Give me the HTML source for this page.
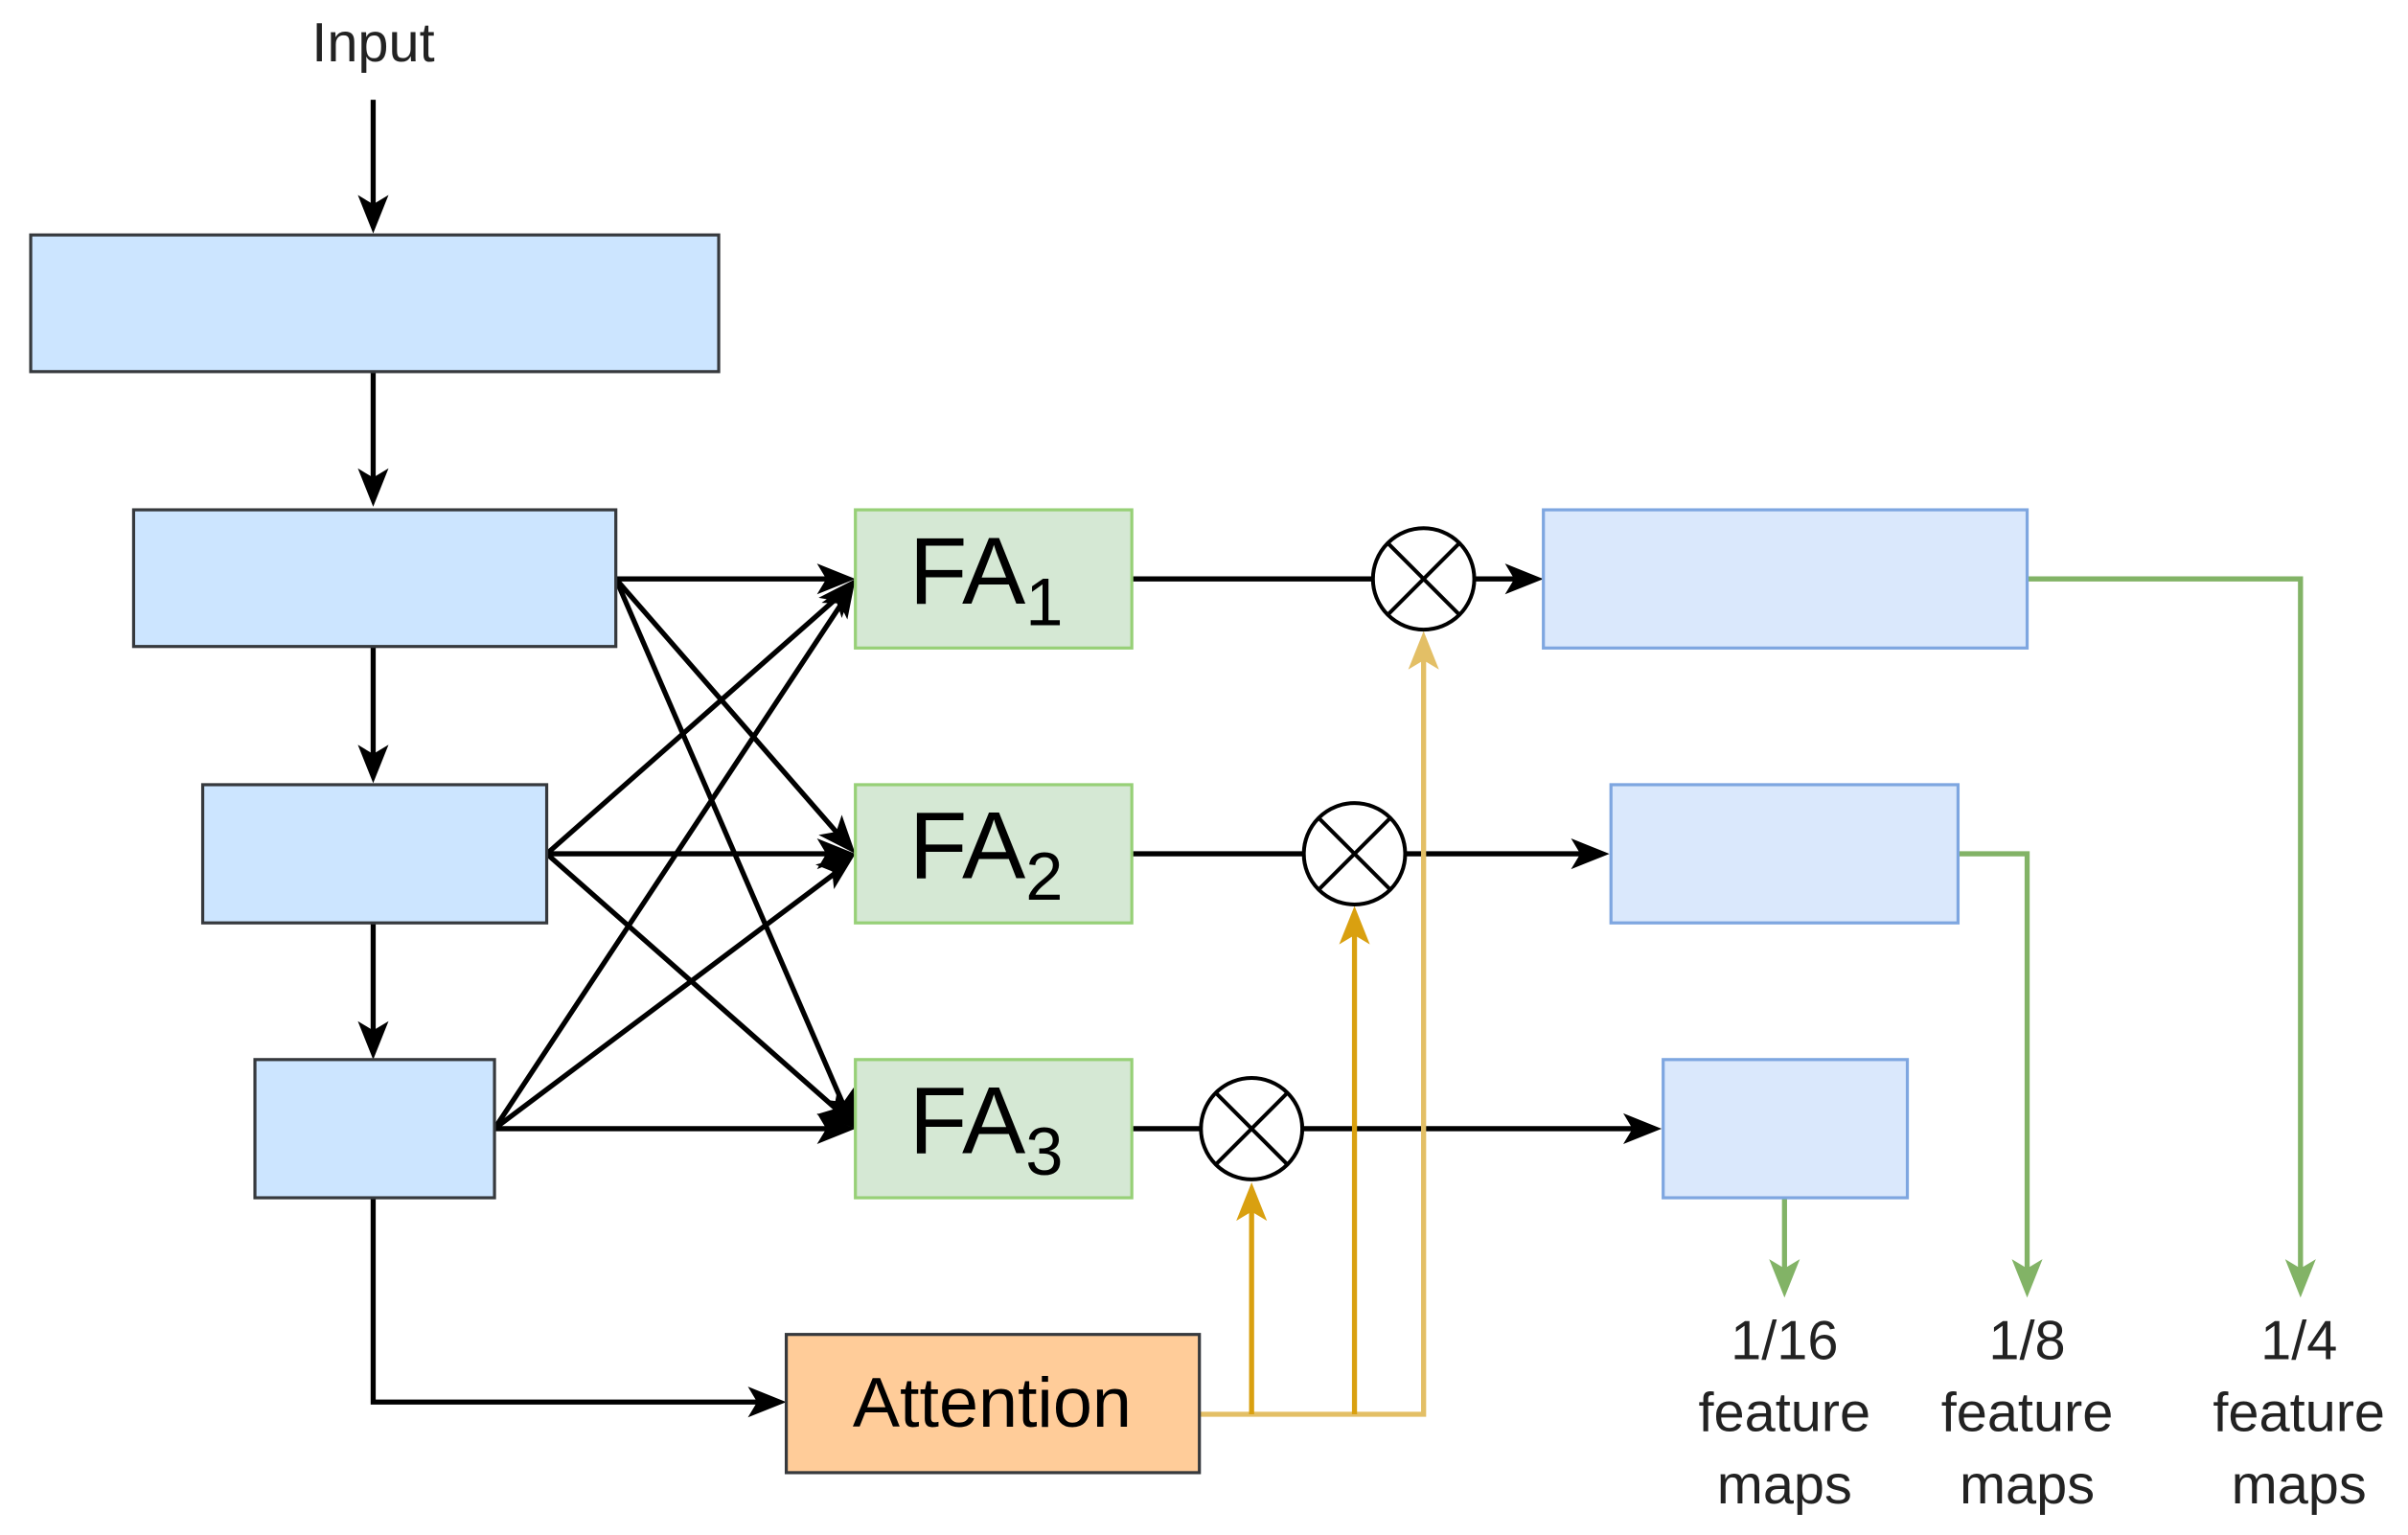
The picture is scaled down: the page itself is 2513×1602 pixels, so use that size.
<!DOCTYPE html>
<html><head><meta charset="utf-8"><style>
html,body{margin:0;padding:0;background:#fff;}
svg{display:block;}
text{font-family:"Liberation Sans",sans-serif;}
</style></head><body>
<svg width="2513" height="1602" viewBox="0 0 1568 999.6" preserveAspectRatio="none" xmlns="http://www.w3.org/2000/svg">
<g stroke-width="3.3" fill="none">
<g stroke="#000">
<line x1="243" y1="65" x2="243" y2="140"/>
<line x1="243" y1="242" x2="243" y2="318"/>
<line x1="243" y1="421" x2="243" y2="498"/>
<line x1="243" y1="601" x2="243" y2="678"/>
<polyline points="243,780 243,913 500,913"/>
<line x1="401" y1="377" x2="545" y2="377"/>
<line x1="401" y1="377" x2="550" y2="548"/>
<line x1="401" y1="377" x2="552" y2="726"/>
<line x1="356" y1="556" x2="550" y2="385"/>
<line x1="356" y1="556" x2="545" y2="556"/>
<line x1="356" y1="556" x2="550" y2="727"/>
<line x1="322" y1="735" x2="552" y2="387"/>
<line x1="322" y1="735" x2="550" y2="564"/>
<line x1="322" y1="735" x2="545" y2="735"/>
<line x1="737" y1="377" x2="894" y2="377"/>
<line x1="960" y1="377" x2="993" y2="377"/>
<line x1="737" y1="556" x2="849" y2="556"/>
<line x1="915" y1="556" x2="1036" y2="556"/>
<line x1="737" y1="735" x2="782" y2="735"/>
<line x1="848" y1="735" x2="1070" y2="735"/>
</g>
<polyline points="781,921 927,921 927,425" stroke="#e3bf66"/>
<line x1="815" y1="921" x2="815" y2="782" stroke="#d9a010"/>
<line x1="882" y1="921" x2="882" y2="603" stroke="#d9a010"/>
<g stroke="#82b366">
<polyline points="1320,377 1498,377 1498,832"/>
<polyline points="1275,556 1320,556 1320,832"/>
<line x1="1162" y1="780" x2="1162" y2="832"/>
</g>
</g>
<g fill="#000">
<polygon points="243,152 233,127 243,133 253,127"/>
<polygon points="243,330 233,305 243,311 253,305"/>
<polygon points="243,510 233,485 243,491 253,485"/>
<polygon points="243,690 233,665 243,671 253,665"/>
<polygon points="512,913 487,903 493,913 487,923"/>
<polygon points="1005,377 980,367 986,377 980,387"/>
<polygon points="1048,556 1023,546 1029,556 1023,566"/>
<polygon points="1082,735 1057,725 1063,735 1057,745"/>
<g transform="translate(557,377)"><polygon points="0,0 -25,-10 -19,0 -25,10"/></g>
<g transform="translate(557,556)"><polygon points="0,0 -25,-10 -19,0 -25,10"/></g>
<g transform="translate(557,735)"><polygon points="0,0 -25,-10 -19,0 -25,10"/></g>
<g transform="translate(557,377) rotate(-49)"><polygon points="0,0 -25,-10 -19,0 -25,10"/></g>
<g transform="translate(557,377) rotate(-57)"><polygon points="0,0 -25,-10 -19,0 -25,10"/></g>
<g transform="translate(557,556) rotate(49)"><polygon points="0,0 -25,-10 -19,0 -25,10"/></g>
<g transform="translate(557,556) rotate(-37)"><polygon points="0,0 -25,-10 -19,0 -25,10"/></g>
<g transform="translate(557,735) rotate(66)"><polygon points="0,0 -25,-10 -19,0 -25,10"/></g>
<g transform="translate(557,735) rotate(42)"><polygon points="0,0 -25,-10 -19,0 -25,10"/></g>
</g>
<polygon points="815,770 805,795 815,789 825,795" fill="#d9a010"/>
<polygon points="882,590 872,615 882,609 892,615" fill="#d9a010"/>
<polygon points="927,411 917,436 927,430 937,436" fill="#e3bf66"/>
<g fill="#82b366">
<polygon points="1498,845 1488,820 1498,826 1508,820"/>
<polygon points="1320,845 1310,820 1320,826 1330,820"/>
<polygon points="1162,845 1152,820 1162,826 1172,820"/>
</g>
<g fill="#cce5ff" stroke="#36393d" stroke-width="2">
<rect x="20" y="153" width="448" height="89"/>
<rect x="87" y="332" width="314" height="89"/>
<rect x="132" y="511" width="224" height="90"/>
<rect x="166" y="690" width="156" height="90"/>
</g>
<g fill="#dae8fc" stroke="#7ea6e0" stroke-width="2">
<rect x="1005" y="332" width="315" height="90"/>
<rect x="1049" y="511" width="226" height="90"/>
<rect x="1083" y="690" width="159" height="90"/>
</g>
<g fill="#d5e8d4" stroke="#97d077" stroke-width="2">
<rect x="557" y="332" width="180" height="90"/>
<rect x="557" y="511" width="180" height="90"/>
<rect x="557" y="690" width="180" height="90"/>
</g>
<rect x="512" y="869" width="269" height="90" fill="#ffcc99" stroke="#36393d" stroke-width="2"/>
<g fill="#fff" stroke="#000" stroke-width="2.5">
<circle cx="927" cy="377" r="33"/>
<circle cx="882" cy="556" r="33"/>
<circle cx="815" cy="735" r="33"/>
<path d="M904,354 L950,400 M950,354 L904,400 M859,533 L905,579 M905,533 L859,579 M792,712 L838,758 M838,712 L792,758"/>
</g>
<g fill="#000">
<text x="243" y="40" font-size="36" text-anchor="middle" fill="#222">Input</text>
<text x="592" y="393" font-size="62">FA<tspan font-size="44" dy="14">1</tspan></text>
<text x="592" y="572" font-size="62">FA<tspan font-size="44" dy="14">2</tspan></text>
<text x="592" y="751" font-size="62">FA<tspan font-size="44" dy="14">3</tspan></text>
<text x="646" y="929" font-size="46" text-anchor="middle">Attention</text>
</g>
<g fill="#222" font-size="36" text-anchor="middle">
<text x="1162" y="885">1/16</text><text x="1162" y="932">feature</text><text x="1162" y="979">maps</text>
<text x="1320" y="885">1/8</text><text x="1320" y="932">feature</text><text x="1320" y="979">maps</text>
<text x="1497" y="885">1/4</text><text x="1497" y="932">feature</text><text x="1497" y="979">maps</text>
</g>
</svg>
</body></html>
